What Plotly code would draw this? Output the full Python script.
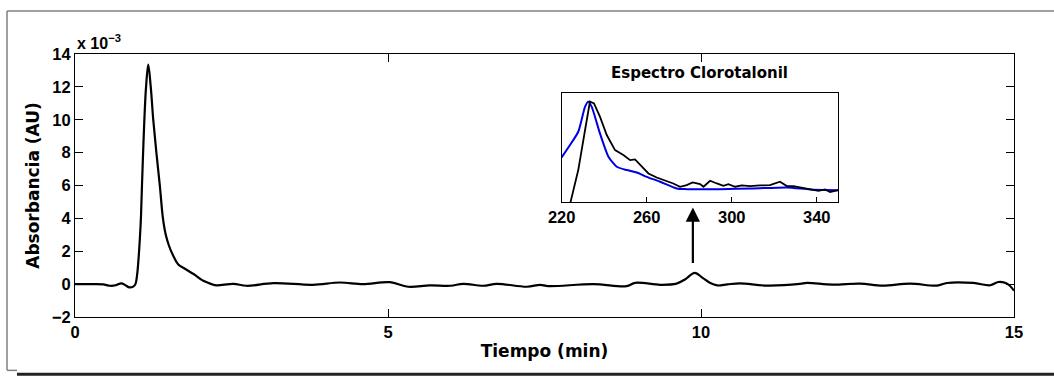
import plotly.graph_objects as go

# Main chromatogram (absorbance in units of 1e-3 AU)
time_min = [0.0, 0.3, 0.45, 0.56, 0.65, 0.74, 0.8, 0.87, 0.93, 0.965, 0.99, 1.01, 1.035, 1.055,
            1.07, 1.088, 1.108, 1.135, 1.17, 1.21, 1.25, 1.30, 1.355, 1.405, 1.45, 1.50, 1.56,
            1.65, 1.75, 1.9, 2.05, 2.18, 2.26, 2.53, 2.74, 3.17, 3.8, 4.23, 4.6, 5.03, 5.32,
            5.67, 6.0, 6.2, 6.52, 6.74, 7.22, 7.43, 7.56, 8.28, 8.81, 8.95, 9.35, 9.61, 9.75,
            9.9, 10.02, 10.14, 10.26, 10.42, 10.62, 11.05, 11.58, 11.69, 12.1, 12.54, 12.9,
            13.34, 13.77, 13.93, 14.35, 14.62, 14.75, 14.89, 15.0]
absorbance_e3 = [0.0, 0.0, -0.02, -0.1, -0.07, 0.05, -0.05, -0.2, -0.15, 0.0, 0.5, 1.3, 2.7, 4.2,
                 6.0, 8.0, 10.0, 12.0, 13.35, 12.0, 10.0, 8.0, 6.0, 4.0, 3.0, 2.35, 1.8,
                 1.2, 0.95, 0.6, 0.2, 0.0, -0.08, 0.02, -0.1, 0.06, -0.04, 0.1, 0.0, 0.12, -0.16,
                 -0.08, -0.1, 0.02, -0.1, 0.02, -0.16, -0.04, -0.12, 0.0, -0.12, 0.08, -0.04, 0.03,
                 0.3, 0.68, 0.4, 0.08, -0.08, -0.02, 0.05, -0.09, 0.01, 0.07, -0.03, 0.03, -0.09,
                 0.03, -0.09, 0.07, 0.07, -0.07, 0.13, 0.03, -0.4]

# Inset spectrum (normalised units)
wl_ref = [220, 223.9, 227.8, 231, 232.5, 234.1, 238, 242, 245.9, 250.6, 255.3, 260, 266.3,
          274.1, 278.8, 294.5, 310.2, 325.9, 336.9, 350]
spec_ref = [0.413, 0.526, 0.648, 0.878, 0.924, 0.878, 0.633, 0.419, 0.327, 0.297, 0.275, 0.235,
            0.19, 0.128, 0.122, 0.122, 0.128, 0.138, 0.119, 0.113]
wl_peak = [223.5, 227.8, 231, 233.3, 235.2, 238, 241.2, 245.1, 249, 252.2, 254.5, 256.9, 260.8,
           264.7, 268.6, 272.5, 275.7, 278.8, 281.6, 285.1, 286.7, 289.8, 293, 296.1, 298.4,
           301.6, 304.7, 308.6, 313.3, 318, 322.7, 325.9, 329, 332.2, 336.9, 340.8, 343.9,
           346.3, 350]
spec_peak = [-0.05, 0.297, 0.664, 0.924, 0.908, 0.786, 0.618, 0.48, 0.434, 0.388, 0.394, 0.342,
             0.266, 0.229, 0.205, 0.174, 0.144, 0.159, 0.183, 0.168, 0.144, 0.199, 0.174, 0.153,
             0.168, 0.144, 0.156, 0.15, 0.156, 0.159, 0.19, 0.15, 0.15, 0.138, 0.122, 0.107,
             0.119, 0.095, 0.113]

main_xticks = [0, 5, 10, 15]
main_yticks = [-2, 0, 2, 4, 6, 8, 10, 12, 14]
inset_xticks = [220, 260, 300, 340]

TICKFONT = dict(family="Arial, Liberation Sans", size=16.5, color="black", weight="bold")
TITLEFONT = dict(family="DejaVu Sans", size=17, color="black", weight="bold")

fig = go.Figure()
fig.add_trace(go.Scatter(x=time_min, y=absorbance_e3, mode="lines",
                         line=dict(color="black", width=2.2, shape="spline", smoothing=1.0),
                         showlegend=False, hoverinfo="skip"))
fig.add_trace(go.Scatter(x=wl_ref, y=spec_ref, mode="lines", xaxis="x2", yaxis="y2",
                         line=dict(color="#0000e6", width=2, shape="spline", smoothing=0.6),
                         showlegend=False, hoverinfo="skip"))
fig.add_trace(go.Scatter(x=wl_peak, y=spec_peak, mode="lines", xaxis="x2", yaxis="y2",
                         line=dict(color="black", width=1.8),
                         showlegend=False, hoverinfo="skip"))

fig.update_layout(
    width=1054, height=376,
    margin=dict(l=75, r=40, t=54, b=59),
    paper_bgcolor="white", plot_bgcolor="white",
    xaxis=dict(range=[0, 15], tickvals=main_xticks, ticks="inside", ticklen=8, tickcolor="black",
               showline=True, linecolor="black", linewidth=1, mirror="ticks", showgrid=False,
               zeroline=False, tickfont=TICKFONT,
               title=dict(text="Tiempo (min)", font=TITLEFONT, standoff=5)),
    yaxis=dict(range=[-2, 14], tickvals=main_yticks, ticks="inside", ticklen=8, tickcolor="black",
               showline=True, linecolor="black", linewidth=1, mirror="ticks", showgrid=False,
               zeroline=False, tickfont=TICKFONT,
               title=dict(text="Absorbancia (AU)", font=TITLEFONT, standoff=7)),
    xaxis2=dict(domain=[0.5183, 0.8126], anchor="y2", range=[220, 350], tickvals=inset_xticks,
                ticks="inside", ticklen=5, tickcolor="black", showline=True, linecolor="black",
                linewidth=1, mirror=True, showgrid=False, zeroline=False, tickfont=TICKFONT),
    yaxis2=dict(domain=[0.4355, 0.8504], anchor="x2", range=[0, 1], showticklabels=False,
                ticks="", showline=True, linecolor="black", linewidth=1, mirror=True,
                showgrid=False, zeroline=False),
)

fig.add_annotation(x=0, y=1.045, xref="paper", yref="paper", xanchor="left", yanchor="middle",
                   text="x 10<sup>−3</sup>", showarrow=False,
                   font=dict(family="Arial, Liberation Sans", size=16, color="black", weight="bold"))
fig.add_annotation(x=0.6656, y=0.9277, xref="paper", yref="paper", xanchor="center",
                   yanchor="middle", text="Espectro Clorotalonil", showarrow=False,
                   font=dict(family="DejaVu Sans", size=15, color="black", weight="bold"))
fig.add_annotation(x=9.87, y=4.66, ax=9.87, ay=1.2, xref="x", yref="y", axref="x", ayref="y",
                   text="", showarrow=True, arrowhead=2, arrowsize=1.3, arrowwidth=2.2,
                   arrowcolor="black")

# outer figure frame remnants
fig.add_shape(type="line", xref="paper", yref="paper", x0=-0.0724, x1=1.05, y0=1.1637, y1=1.1637,
              line=dict(color="#808080", width=1.5))
fig.add_shape(type="line", xref="paper", yref="paper", x0=-0.0724, x1=-0.0724, y0=1.1637,
              y1=-0.2029, line=dict(color="#808080", width=1.5))
fig.add_shape(type="line", xref="paper", yref="paper", x0=-0.0724, x1=-0.0618, y0=-0.2029,
              y1=-0.2029, line=dict(color="#808080", width=1.5))
fig.add_shape(type="line", xref="paper", yref="paper", x0=-0.0618, x1=1.05, y0=-0.2181,
              y1=-0.2181, line=dict(color="#222222", width=3))

fig.write_html("out.html")
